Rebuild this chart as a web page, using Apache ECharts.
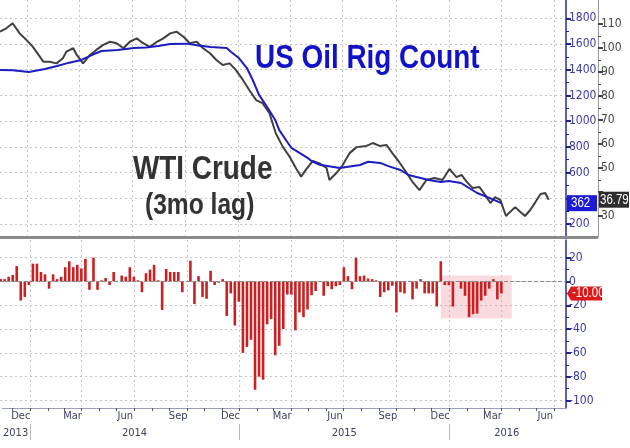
<!DOCTYPE html>
<html>
<head>
<meta charset="utf-8">
<script src="https://cdn.jsdelivr.net/npm/echarts@6/dist/echarts.min.js"></script>
<style>
  html, body { margin: 0; padding: 0; background: #fff; }
  #main { width: 630px; height: 448px; }
</style>
</head>
<body>
<div id="main"></div>
<script>
// US oil rig count (blue line)
const rigDates = ['2013-11-08', '2013-12-06', '2014-01-03', '2014-01-31', '2014-02-21', '2014-03-14', '2014-04-04', '2014-04-25',
    '2014-05-09', '2014-06-06', '2014-07-04', '2014-07-25', '2014-08-15', '2014-09-05', '2014-10-03', '2014-10-24', '2014-11-14',
    '2014-12-12', '2014-12-19', '2015-01-02', '2015-01-16', '2015-01-26', '2015-02-06', '2015-02-20', '2015-03-06', '2015-03-13',
    '2015-03-27', '2015-04-03', '2015-04-17', '2015-05-01', '2015-05-08', '2015-05-22', '2015-06-26', '2015-07-31', '2015-08-14',
    '2015-09-04', '2015-09-18', '2015-10-09', '2015-10-23', '2015-11-13', '2015-11-27', '2015-12-18', '2016-01-01', '2016-01-22',
    '2016-02-05', '2016-02-19', '2016-03-11', '2016-04-01'];
const rigValues = [1398, 1395, 1382, 1405, 1429, 1455, 1476, 1520,
    1546, 1553, 1569, 1572, 1585, 1600, 1603, 1588, 1577,
    1569, 1540, 1491, 1413, 1320, 1204, 1110, 1009, 930,
    838, 792, 753, 714, 690, 660, 636, 659, 684,
    675, 650, 620, 581, 558, 542, 527, 535, 519,
    480, 441, 403, 362];

// WTI crude, shifted 3 months (black line)
const wtiDates = ['2013-11-14', '2013-11-25', '2013-12-06', '2013-12-18', '2013-12-30', '2014-01-10', '2014-01-22', '2014-01-28',
    '2014-02-08', '2014-02-20', '2014-03-03', '2014-03-09', '2014-03-21', '2014-03-27', '2014-04-07', '2014-04-19', '2014-04-30',
    '2014-05-12', '2014-05-24', '2014-06-04', '2014-06-16', '2014-06-27', '2014-07-09', '2014-07-20', '2014-08-01', '2014-08-13',
    '2014-08-24', '2014-09-05', '2014-09-16', '2014-09-28', '2014-10-09', '2014-10-21', '2014-11-01', '2014-11-13', '2014-11-24',
    '2014-12-05', '2014-12-17', '2014-12-28', '2015-01-09', '2015-01-20', '2015-02-01', '2015-02-12', '2015-02-24', '2015-03-07',
    '2015-03-19', '2015-03-31', '2015-04-11', '2015-04-20', '2015-04-28', '2015-05-10', '2015-05-21', '2015-06-03', '2015-06-08',
    '2015-06-20', '2015-07-01', '2015-07-13', '2015-07-25', '2015-08-11', '2015-08-22', '2015-09-03', '2015-09-15', '2015-09-25',
    '2015-10-08', '2015-10-20', '2015-10-30', '2015-11-11', '2015-11-23', '2015-12-07', '2015-12-21', '2016-01-02', '2016-01-14',
    '2016-01-23', '2016-02-01', '2016-02-11', '2016-02-23', '2016-03-04', '2016-03-13', '2016-03-21', '2016-03-30', '2016-04-09',
    '2016-04-16', '2016-04-25', '2016-05-04', '2016-05-12', '2016-05-21', '2016-05-30', '2016-06-08', '2016-06-16', '2016-06-22'];
const wtiValues = [106.8, 108.2, 110.3, 106.1, 103.3, 100.5, 96.4, 94.3,
    94.3, 93.6, 95.7, 98.5, 99.9, 97.1, 93.6, 97.1, 99.2,
    101.3, 102.6, 102.0, 99.9, 102.6, 104.0, 102.0, 100.5, 102.6,
    104.0, 106.1, 106.8, 104.7, 102.0, 102.6, 99.9, 97.8, 95.0,
    92.9, 93.6, 90.8, 86.7, 82.5, 78.3, 77.0, 72.8, 64.5,
    58.9, 54.7, 49.9, 46.4, 49.2, 52.9, 52.0, 50.0, 45.0,
    47.9, 51.2, 56.2, 58.7, 59.2, 60.4, 59.2, 59.6, 56.2,
    52.1, 47.9, 44.2, 40.8, 45.0, 45.8, 45.0, 49.6, 46.2,
    47.1, 44.2, 41.7, 42.1, 38.7, 35.4, 37.9, 36.7, 30.0,
    31.7, 33.7, 31.7, 30.0, 32.5, 35.8, 39.2, 39.6, 36.79];

// weekly change in rig count, one bar per Friday from barStart
const barStart = '2013-11-08';
const rigChange = [5, 2, 2, 4, 5.5, 13, -16, -13, -3, 15, 15, 8, 6, -6, 6, 2, 4, 12, 17, 12,
    14, 11, 19, -7, 23, -7, 1, 3, -3, 8, 0, 5, 4, 12, 4, 1, -9, 7, 10, 14,
    1, -24, 10.5, 8, 8, 8, -9, 0, 17.5, -19, 4.5, -13, -14.5, 9, -3, -1, 2, -29, -10, -37,
    -17, -60, -55, -49, -91, -80, -82.5, -36, -31.5, -62, -54, -40, -11, -11, -41, -26, -30, -23.5, -11.5, -8,
    0, -12, -4, -6.5, -4, -3, 12, 4.5, -6.5, 21, 4.5, 5, 2.5, 2, 1, -13, -9, -7.5, -3.5, -26,
    -9, -10, 0, -15, -6, 2, -10, -10, -10, -21, 17, -3, -3, -21, 0, -6, -12, -30, -27.5, -27,
    -16, -12, -6, 2, -15, -10];

// shaded box in the lower panel
const shadeX = ['2015-12-18', '2016-04-19'];
const shadeY = [5, -31];

// axis labels
const monthLabelDates = ['2013-12-16', '2014-03-16', '2014-06-16', '2014-09-16', '2014-12-16', '2015-03-16',
    '2015-06-16', '2015-09-16', '2015-12-16', '2016-03-16', '2016-06-16'];
const monthLabelNames = ['Dec', 'Mar', 'Jun', 'Sep', 'Dec', 'Mar', 'Jun', 'Sep', 'Dec', 'Mar', 'Jun'];
const yearLabelDates = ['2013-12-07', '2014-07-02', '2015-07-02', '2016-04-10'];
const yearLabelNames = ['2013', '2014', '2015', '2016'];
const yearBreaks = ['2014-01-01', '2015-01-01', '2016-01-01'];
const quarterStarts = ['2014-01-01', '2014-04-01', '2014-07-01', '2014-10-01', '2015-01-01', '2015-04-01',
    '2015-07-01', '2015-10-01', '2016-01-01', '2016-04-01', '2016-07-01'];
const monthStarts = ['2013-12-01', '2014-01-01', '2014-02-01', '2014-03-01', '2014-04-01', '2014-05-01', '2014-06-01',
    '2014-07-01', '2014-08-01', '2014-09-01', '2014-10-01', '2014-11-01', '2014-12-01', '2015-01-01', '2015-02-01',
    '2015-03-01', '2015-04-01', '2015-05-01', '2015-06-01', '2015-07-01', '2015-08-01', '2015-09-01', '2015-10-01',
    '2015-11-01', '2015-12-01', '2016-01-01', '2016-02-01', '2016-03-01', '2016-04-01', '2016-05-01', '2016-06-01',
    '2016-07-01'];

const xMin = '2013-11-14';
const xMax = '2016-07-22';

const AXIS_FONT = '"Liberation Sans Narrow", "DejaVu Sans Condensed", sans-serif';
const TITLE_FONT = '"Liberation Sans", Arial, sans-serif';
const ts = (s) => echarts.time.parse(s).getTime();
const DAY = 24 * 3600 * 1000;

const chart = echarts.init(document.getElementById('main'), null, { renderer: 'canvas' });

const rigData = rigDates.map((d, i) => [ts(d), rigValues[i]]);
const wtiData = wtiDates.map((d, i) => [ts(d), wtiValues[i]]);
const barData = rigChange.map((v, i) => [ts(barStart) + i * 7 * DAY, v]);

const lastRig = rigValues[rigValues.length - 1];
const lastWti = wtiValues[wtiValues.length - 1];
const lastChange = rigChange[rigChange.length - 1];

const monthMap = {};
monthLabelDates.forEach((d, i) => { monthMap[ts(d)] = monthLabelNames[i]; });
const yearMap = {};
yearLabelDates.forEach((d, i) => { yearMap[ts(d)] = yearLabelNames[i]; });

const X0 = ts(xMin);
const X1 = ts(xMax);
const gridLine = { show: true, lineStyle: { color: '#c4c4c4', type: [2, 3], width: 1 } };
const hiddenX = (gridIndex) => ({ type: 'value', gridIndex, min: X0, max: X1, show: false });
// hide a tick label that sits under the last-value tag
const tagFormatter = (last, gap) => (v) => (Math.abs(v - last) < gap ? '' : String(v));
const yLabel = (color, last, gap) => ({
    formatter: tagFormatter(last, gap), fontFamily: AXIS_FONT, fontSize: 12, color: color, margin: 3
});

const option = {
    animation: false,
    backgroundColor: '#fff',
    grid: [
        { left: 0, width: 566, top: 0, height: 237 },          // top frame
        { left: 0, width: 566, top: 18.3, height: 205.7 },     // rig count
        { left: 0, width: 566, top: 24, height: 192 },         // wti
        { left: 0, width: 566, top: 240, height: 168 },        // bottom frame
        { left: 0, width: 566, top: 257.7, height: 142.8 }     // weekly change
    ],
    xAxis: [
        {
            type: 'value', gridIndex: 0, min: X0, max: X1,
            axisLine: { show: true, lineStyle: { color: '#8a8a8a', width: 3 } },
            axisTick: { show: false, customValues: quarterStarts.map(ts) },
            axisLabel: { show: false },
            splitLine: gridLine
        },
        hiddenX(1),
        hiddenX(2),
        {
            type: 'value', gridIndex: 3, min: X0, max: X1, position: 'bottom',
            axisLine: { show: true, lineStyle: { color: '#9aa0b8', width: 1 } },
            axisTick: { show: true, length: 3, customValues: monthStarts.map(ts), lineStyle: { color: '#555' } },
            axisLabel: {
                customValues: monthLabelDates.map(ts),
                formatter: (v) => monthMap[v] || '',
                fontFamily: AXIS_FONT, fontSize: 11, color: '#3a3f5c', margin: 3
            },
            splitLine: { show: false }
        },
        {
            type: 'value', gridIndex: 3, min: X0, max: X1, position: 'bottom',
            axisLine: { show: false },
            axisTick: { show: false, customValues: quarterStarts.map(ts) },
            axisLabel: { show: false },
            splitLine: gridLine
        },
        {
            type: 'value', gridIndex: 3, min: X0, max: X1, position: 'bottom', offset: 16,
            axisLine: { show: false },
            axisTick: { show: true, length: 16, customValues: yearBreaks.map(ts), lineStyle: { color: '#b8b8b8' } },
            axisLabel: {
                customValues: yearLabelDates.map(ts),
                formatter: (v) => yearMap[v] || '',
                fontFamily: AXIS_FONT, fontSize: 11, color: '#3a3f5c', margin: 4
            },
            splitLine: { show: false }
        },
        hiddenX(4)
    ],
    yAxis: [
        {
            type: 'value', gridIndex: 0, position: 'right', min: 0, max: 1,
            axisLine: { show: true, lineStyle: { color: '#2b2b9c', width: 1.5 } },
            axisTick: { show: false }, axisLabel: { show: false }, splitLine: { show: false }
        },
        {
            type: 'value', gridIndex: 0, position: 'right', offset: 32, min: 0, max: 1,
            axisLine: { show: true, lineStyle: { color: '#9a9a9a', width: 1 } },
            axisTick: { show: false }, axisLabel: { show: false }, splitLine: { show: false }
        },
        {
            type: 'value', gridIndex: 1, position: 'right', min: 200, max: 1800, interval: 200,
            axisLine: { show: false },
            axisTick: { show: true, length: 5, lineStyle: { color: '#22228a', width: 2 } },
            minorTick: { show: true, splitNumber: 2, length: 3, lineStyle: { color: '#22228a' } },
            axisLabel: yLabel('#3a3aa0', lastRig, 60),
            splitLine: gridLine
        },
        {
            type: 'value', gridIndex: 2, position: 'right', offset: 32, min: 30, max: 110, interval: 10,
            axisLine: { show: false },
            axisTick: { show: true, length: 5, lineStyle: { color: '#444', width: 2 } },
            minorTick: { show: true, splitNumber: 2, length: 3, lineStyle: { color: '#555' } },
            axisLabel: yLabel('#444', lastWti, 5),
            splitLine: { show: false }
        },
        {
            type: 'value', gridIndex: 3, position: 'right', min: 0, max: 1,
            axisLine: { show: true, lineStyle: { color: '#2b2b9c', width: 1.5 } },
            axisTick: { show: false }, axisLabel: { show: false }, splitLine: { show: false }
        },
        {
            type: 'value', gridIndex: 4, position: 'right', min: -100, max: 20, interval: 20,
            axisLine: { show: false },
            axisTick: { show: true, length: 5, lineStyle: { color: '#22228a', width: 2 } },
            minorTick: { show: true, splitNumber: 2, length: 3, lineStyle: { color: '#22228a' } },
            axisLabel: yLabel('#3a3aa0', lastChange, 5),
            splitLine: gridLine
        }
    ],
    series: [
        {
            name: 'Weekly change', type: 'bar', xAxisIndex: 6, yAxisIndex: 5,
            data: barData, barWidth: 2.6,
            itemStyle: { color: '#cc1f22' },
            markArea: {
                silent: true,
                itemStyle: { color: 'rgba(238,150,160,0.35)' },
                data: [[{ xAxis: ts(shadeX[0]), yAxis: shadeY[0] }, { xAxis: ts(shadeX[1]), yAxis: shadeY[1] }]]
            },
            markLine: {
                silent: true, symbol: 'none', label: { show: false },
                lineStyle: { color: '#8a8a8a', type: 'dashed', width: 1 },
                data: [{ yAxis: 0 }]
            }
        },
        {
            name: 'WTI Crude', type: 'line', xAxisIndex: 2, yAxisIndex: 3,
            data: wtiData, showSymbol: false, clip: false,
            lineStyle: { color: '#404040', width: 2 }
        },
        {
            name: 'US Oil Rig Count', type: 'line', xAxisIndex: 1, yAxisIndex: 2,
            data: rigData, showSymbol: false,
            lineStyle: { color: '#1c1cc4', width: 2 }
        }
    ]
};

chart.setOption(option);

// last-value tags on the right axes
const yRig = chart.convertToPixel({ yAxisIndex: 2 }, lastRig);
const yWti = chart.convertToPixel({ yAxisIndex: 3 }, lastWti);
const yChg = chart.convertToPixel({ yAxisIndex: 5 }, lastChange);
const tagFont = '14px ' + TITLE_FONT;

chart.setOption({
    graphic: [
        {
            type: 'text', x: 255, y: 59, scaleX: 0.82, z: 50,
            style: { text: 'US Oil Rig Count', fill: '#1212c8', font: 'bold 34px ' + TITLE_FONT, verticalAlign: 'middle' }
        },
        {
            type: 'text', x: 133, y: 170, scaleX: 0.82, z: 50,
            style: { text: 'WTI Crude', fill: '#333', font: 'bold 34px ' + TITLE_FONT, verticalAlign: 'middle' }
        },
        {
            type: 'text', x: 145, y: 206, scaleX: 0.82, z: 50,
            style: { text: '(3mo lag)', fill: '#333', font: 'bold 30px ' + TITLE_FONT, verticalAlign: 'middle' }
        },
        {
            type: 'line', z: 40, shape: { x1: 566, y1: 237.5, x2: 598, y2: 237.5 },
            style: { stroke: '#8a8a8a', lineWidth: 3 }
        },
        {
            type: 'rect', z: 60, shape: { x: 567, y: yRig - 8, width: 30, height: 16 },
            style: { fill: '#1c1cd6' }
        },
        {
            type: 'text', z: 61, x: 571, y: yRig, scaleX: 0.82,
            style: { text: String(lastRig), fill: '#fff', font: tagFont, verticalAlign: 'middle' }
        },
        {
            type: 'rect', z: 60, shape: { x: 599, y: yWti - 8, width: 30, height: 16 },
            style: { fill: '#2e2e2e' }
        },
        {
            type: 'text', z: 61, x: 600, y: yWti, scaleX: 0.82,
            style: { text: lastWti.toFixed(2), fill: '#fff', font: tagFont, verticalAlign: 'middle' }
        },
        {
            type: 'polygon', z: 60,
            shape: { points: [[567, yChg], [571, yChg - 7], [602, yChg - 7], [602, yChg + 7], [571, yChg + 7]] },
            style: { fill: '#e01818' }
        },
        {
            type: 'text', z: 61, x: 572, y: yChg, scaleX: 0.82,
            style: { text: lastChange.toFixed(2), fill: '#fff', font: tagFont, verticalAlign: 'middle' }
        }
    ]
});
</script>
</body>
</html>
